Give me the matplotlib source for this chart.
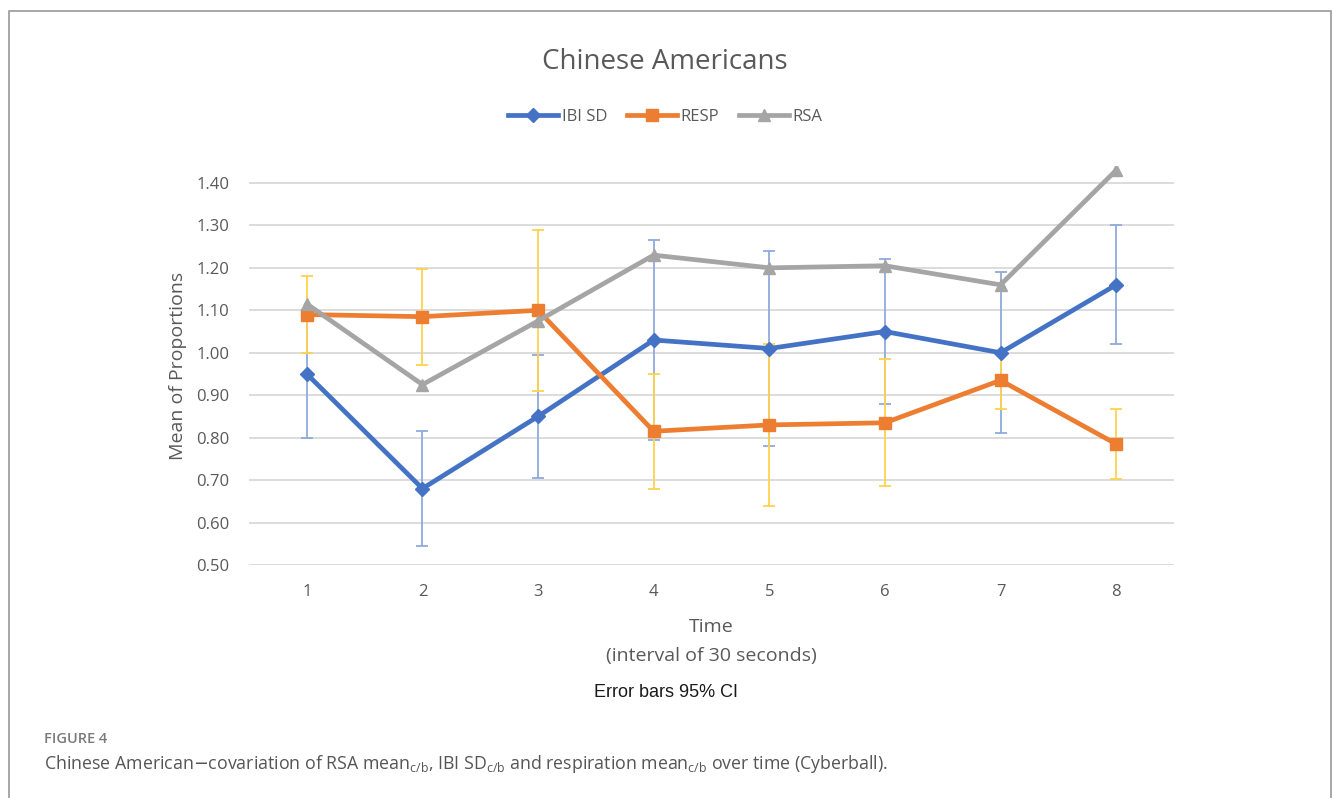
import matplotlib.pyplot as plt
from matplotlib.lines import Line2D

# values
time_pts = [1, 2, 3, 4, 5, 6, 7, 8]
ibi_sd = [0.95, 0.68, 0.85, 1.03, 1.01, 1.05, 1.00, 1.16]
ibi_err = [0.15, 0.135, 0.145, 0.235, 0.23, 0.17, 0.19, 0.14]
resp = [1.09, 1.085, 1.10, 0.815, 0.83, 0.835, 0.935, 0.785]
resp_err = [0.09, 0.113, 0.19, 0.135, 0.19, 0.15, 0.068, 0.082]
rsa = [1.115, 0.925, 1.075, 1.23, 1.20, 1.205, 1.16, 1.43]
y_ticks = [0.50, 0.60, 0.70, 0.80, 0.90, 1.00, 1.10, 1.20, 1.30, 1.40]

plt.rcParams['font.family'] = ['Open Sans', 'DejaVu Sans']
txt_col = '#595959'

fig = plt.figure(figsize=(13.33, 7.98), dpi=100)
ax = fig.add_axes([0.1868, 0.292, 0.6939, 0.5])

# open frame round the figure panel (left, top, right)
W, H = 1333, 798
fx = [9 / W, 9 / W, 1331 / W, 1331 / W]
fy = [0.0, 1 - 11 / H, 1 - 11 / H, 0.0]
fig.lines.append(Line2D(fx, fy, transform=fig.transFigure, color='#a0a0a0', lw=1.3))

# error bars first so the lines sit on top
ax.errorbar(time_pts, ibi_sd, yerr=ibi_err, fmt='none', ecolor='#8faadc',
            elinewidth=1.3, capsize=4, capthick=1.3, zorder=2)
ax.errorbar(time_pts, resp, yerr=resp_err, fmt='none', ecolor='#ffd24d',
            elinewidth=1.3, capsize=4, capthick=1.3, zorder=2)

ax.plot(time_pts, ibi_sd, color='#4472c4', lw=3.4, marker='D', ms=7, label='IBI SD', zorder=3)
ax.plot(time_pts, resp, color='#ed7d31', lw=3.4, marker='s', ms=8, label='RESP', zorder=4)
ax.plot(time_pts, rsa, color='#a5a5a5', lw=3.4, marker='^', ms=9, label='RSA', zorder=5)

ax.set_xlim(0.5, 8.5)
ax.set_ylim(0.5, 1.44)
ax.set_xticks(time_pts)
ax.set_yticks(y_ticks)
ax.set_yticklabels([f'{v:.2f}' for v in y_ticks])
ax.tick_params(length=0, labelsize=12, colors=txt_col, pad=14)
ax.grid(axis='y', color='#d9d9d9', linewidth=1.3)
for s in ax.spines.values():
    s.set_visible(False)

ax.set_ylabel('Mean of Proportions', fontsize=14, color=txt_col, labelpad=7)
ax.set_xlabel('Time\n(interval of 30 seconds)', fontsize=14, color=txt_col,
              labelpad=13, linespacing=1.75)

fig.text(0.499, 0.922, 'Chinese Americans', ha='center', va='center', fontsize=20, color=txt_col)
fig.legend(loc='center', bbox_to_anchor=(0.499, 0.853), ncol=3, frameon=False,
           fontsize=12, handlelength=3, handletextpad=0.2, columnspacing=1.2,
           labelcolor=txt_col)

fig.text(0.5, 0.132, 'Error bars 95% CI', ha='center', va='center', fontsize=13,
         family=['Liberation Sans', 'DejaVu Sans'], color='#1a1a1a')

fig.text(44 / W, 1 - 739 / H, 'FIGURE 4', ha='left', va='center', fontsize=10.5,
         weight='semibold', color='#7a7a7a')
fig.text(44 / W, 1 - 764 / H,
         r'Chinese American$-$covariation of RSA mean$_{\mathregular{c/b}}$, IBI SD$_{\mathregular{c/b}}$'
         r' and respiration mean$_{\mathregular{c/b}}$ over time (Cyberball).',
         ha='left', va='center', fontsize=12.8, color='#555555')

fig.savefig('out.png', dpi=100)
